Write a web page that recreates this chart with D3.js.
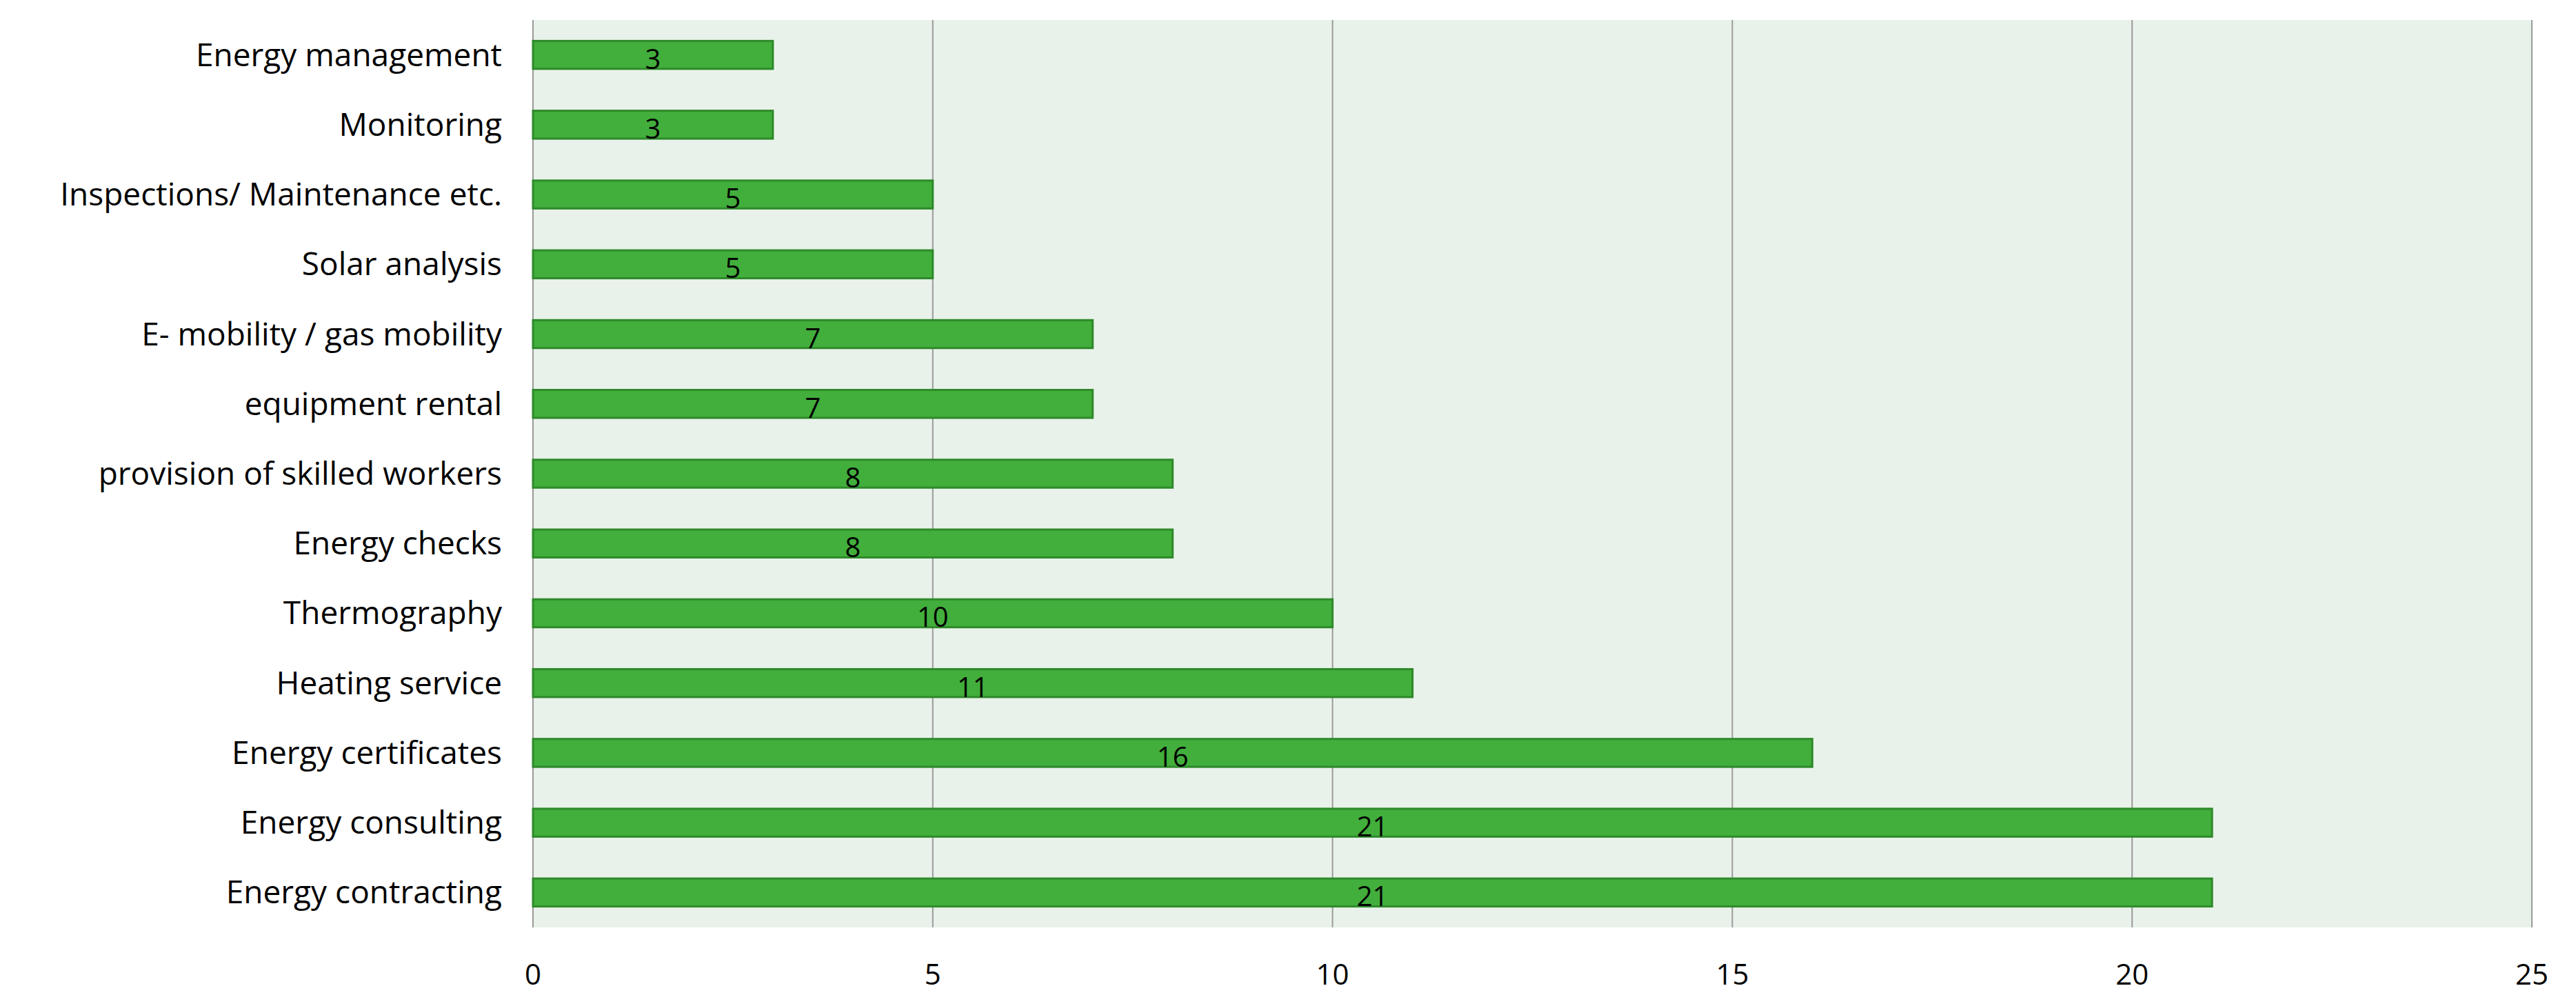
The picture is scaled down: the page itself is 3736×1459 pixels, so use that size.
<!DOCTYPE html>
<html><head><meta charset="utf-8">
<script src="https://cdn.jsdelivr.net/npm/d3@7"></script>
<style>body{margin:0;background:#fff}</style>
</head><body><div id="chart"></div>
<script>
const categories = ["Energy management","Monitoring","Inspections/ Maintenance etc.","Solar analysis","E- mobility / gas mobility","equipment rental","provision of skilled workers","Energy checks","Thermography","Heating service","Energy certificates","Energy consulting","Energy contracting"];
const values = [3,3,5,5,7,7,8,8,10,11,16,21,21];
const ticks = [0,5,10,15,20,25];

const W = 3736, H = 1459;
const m = {left: 773, right: 3672, top: 29, bottom: 1345};
const font = "'Open Sans', sans-serif";

const svg = d3.select("#chart").append("svg").attr("width", W).attr("height", H);

const x = d3.scaleLinear().domain([0, 25]).range([m.left, m.right]);
const y = d3.scaleBand().domain(categories).range([m.top, m.bottom]).paddingInner(0.6).paddingOuter(0.3);

svg.append("rect").attr("x", m.left).attr("y", m.top)
    .attr("width", m.right - m.left).attr("height", m.bottom - m.top)
    .attr("fill", "#e8f2ea");

svg.selectAll(".grid").data(ticks).enter().append("line")
    .attr("x1", d => x(d)).attr("x2", d => x(d))
    .attr("y1", m.top).attr("y2", m.bottom)
    .attr("stroke", "#9a9a9a").attr("stroke-width", 2);

svg.selectAll(".bar").data(values).enter().append("rect")
    .attr("x", x(0)).attr("y", (d, i) => y(categories[i]))
    .attr("width", d => x(d) - x(0)).attr("height", y.bandwidth())
    .attr("fill", "#42ae3c").attr("stroke", "#2e8a2a").attr("stroke-width", 3);

svg.selectAll(".val").data(values).enter().append("text")
    .attr("x", d => x(d / 2)).attr("y", (d, i) => y(categories[i]) + y.bandwidth() / 2 + 20)
    .attr("text-anchor", "middle").attr("font-family", font).attr("font-size", 40)
    .text(d => d);

svg.selectAll(".cat").data(categories).enter().append("text")
    .attr("x", m.left - 45).attr("y", d => y(d) + y.bandwidth() / 2 + 16)
    .attr("text-anchor", "end").attr("font-family", font).attr("font-size", 46)
    .text(d => d);

svg.selectAll(".tick").data(ticks).enter().append("text")
    .attr("x", d => x(d)).attr("y", 1428)
    .attr("text-anchor", "middle").attr("font-family", font).attr("font-size", 42)
    .text(d => d);
</script></body></html>
